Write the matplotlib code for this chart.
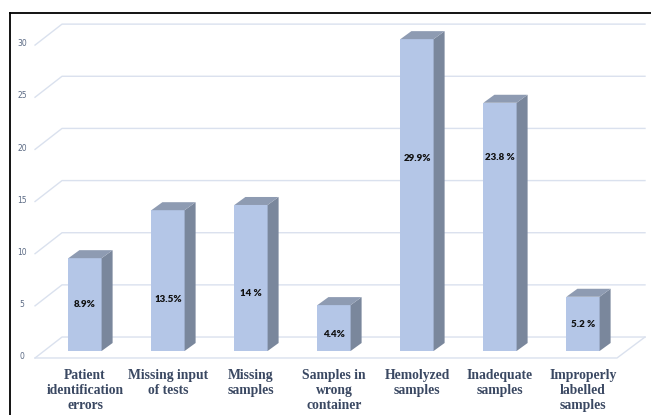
import numpy as np
import matplotlib.pyplot as plt
from matplotlib.patches import Polygon

categories = ["Patient\nidentification\nerrors", "Missing input\nof tests", "Missing\nsamples",
              "Samples in\nwrong\ncontainer", "Hemolyzed\nsamples", "Inadequate\nsamples",
              "Improperly\nlabelled\nsamples"]
values = [8.9, 13.5, 14, 4.4, 29.9, 23.8, 5.2]
value_labels = ["8.9%", "13.5%", "14 %", "4.4%", "29.9%", "23.8 %", "5.2 %"]
yticks = [0, 5, 10, 15, 20, 25, 30]

# where the value text sits inside each bar (data units)
label_pos = [4.5, 4.9, 5.5, 1.6, 18.5, 18.6, 2.5]

# pixel mapping: bar i centred at 85 + 83*i px, value 0 at y=351 px, 10.43 px per unit
px_x, px_y = 83.0, 10.43
W, H = 651, 415

fig = plt.figure(figsize=(W / 100, H / 100), dpi=100)
ax = fig.add_axes([0, 0, 1, 1])
ax.set_xlim((0 - 85) / px_x, (W - 85) / px_x)
ax.set_ylim((351 - H) / px_y, 351 / px_y)
ax.axis('off')

front = "#b4c6e7"
side = "#7a879c"
top = "#8e9bb2"
grid = "#dae1ee"

# wall / floor geometry (data units)
xf, xb, xr = -0.602, -0.277, 6.747   # front corner, back corner, right end
off_f, off_b = -0.67, 1.34           # front corner and back wall offsets
x_floor_end = 6.41

for v in yticks:
    ax.plot([xf, xb, xr], [v + off_f, v + off_b, v + off_b], color=grid, lw=1.0, zorder=1)
    ax.text(-0.76, v - 0.55, str(v), ha='center', va='center', fontsize=5.5,
            color="#5b6a84", family='DejaVu Sans')
ax.plot([xf, x_floor_end, xr], [off_f, off_f, off_b], color=grid, lw=1.0, zorder=1)

x = np.arange(len(values))
bw = 0.4
dx, dy = 11 / px_x, 8 / px_y
ax.bar(x, values, width=bw, color=front, edgecolor='none', zorder=3)
for xi, v in zip(x, values):
    r = xi + bw / 2
    l = xi - bw / 2
    ax.add_patch(Polygon([(r, 0), (r + dx, dy), (r + dx, v + dy), (r, v)],
                         closed=True, facecolor=side, edgecolor='none', zorder=3))
    ax.add_patch(Polygon([(l, v), (r, v), (r + dx, v + dy), (l + dx, v + dy)],
                         closed=True, facecolor=top, edgecolor='none', zorder=3))

for xi, lab, yp in zip(x, value_labels, label_pos):
    ax.text(xi, yp, lab, ha='center', va='center', fontsize=7, fontweight='heavy',
            color="#111111", family='Lato', zorder=4)

for xi, cat in zip(x, categories):
    ax.text(xi, -1.7, cat, ha='center', va='top', fontsize=9.8, fontweight='bold',
            color="#3a4862", family='Liberation Serif', linespacing=1.2)

# black frame at top and left
ax.plot([(10 - 85) / px_x, (W - 85) / px_x], [(351 - 13) / px_y] * 2, color='black', lw=1.3,
        clip_on=False)
ax.plot([(10 - 85) / px_x] * 2, [(351 - 13) / px_y, (351 - H) / px_y], color='black', lw=1.3,
        clip_on=False)

fig.savefig("out.png", dpi=100)
